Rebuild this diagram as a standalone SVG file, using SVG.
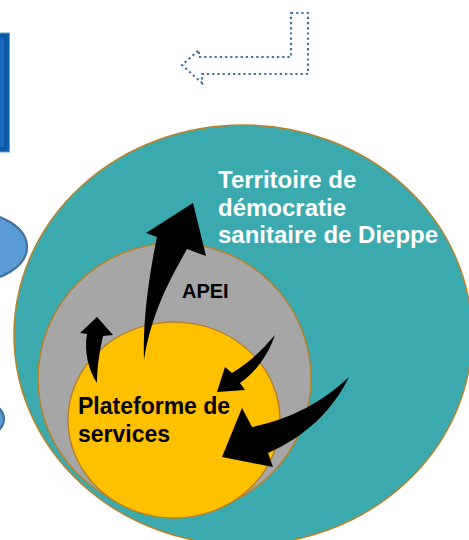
<svg xmlns="http://www.w3.org/2000/svg" width="469" height="540" viewBox="0 0 469 540">
<style>
.ring{stroke:#B7832A;stroke-width:1.5}
.lbl{font-family:"Liberation Sans",Arial,sans-serif;font-weight:bold}
.arr{fill:#000000}
.blue{fill:#5B9BD5;stroke:#41719C;stroke-width:2.2}
</style>
<rect width="469" height="540" fill="#FFFFFF"/>
<g id="side-box">
<rect x="-20" y="33" width="29.5" height="119" fill="#0B5CAD" stroke="#6F9FD3" stroke-width="1"/>
<rect x="-20" y="37" width="25" height="111" fill="#1769C0" stroke="#0A4A8C" stroke-width="1"/>
</g>
<g id="side-ellipse-1"><ellipse class="blue" cx="-30" cy="247" rx="57" ry="35"/></g>
<g id="side-ellipse-2"><ellipse class="blue" cx="-35" cy="419" rx="39" ry="22"/></g>
<g id="return-arrow">
<polygon points="291,13 308,13 308,74 202,74 202,83 182,65 199,50 199,57 291,57" fill="none" stroke="#41719C" stroke-width="2.2" stroke-dasharray="2.2 3"/>
</g>
<g id="territoire">
<ellipse class="ring" cx="243" cy="335" rx="229" ry="210" fill="#3AAAAE"/>
<text class="lbl" fill="#FFFFFF" font-size="24" x="218" y="188">Territoire de</text>
<text class="lbl" fill="#FFFFFF" font-size="24" x="218" y="215.5">démocratie</text>
<text class="lbl" fill="#FFFFFF" font-size="24" x="218" y="243">sanitaire de Dieppe</text>
</g>
<g id="apei">
<ellipse class="ring" cx="174.5" cy="378.5" rx="136.5" ry="135.5" fill="#A6A6A6"/>
<text class="lbl" fill="#000000" font-size="20" x="182" y="298">APEI</text>
</g>
<g id="plateforme">
<ellipse class="ring" cx="174" cy="420" rx="106" ry="98" fill="#FFC000"/>
<text class="lbl" fill="#000000" font-size="23" x="78" y="414">Plateforme de</text>
<text class="lbl" fill="#000000" font-size="23" x="78" y="442">services</text>
</g>
<g id="connectors">
<path class="arr" d="M144,360 C143,330 146,290 157,237 L146,233 L193,203 L206,256 L187,249 C172,276 152,310 144,360 Z"/>
<path class="arr" d="M97,383 C88,370 84,350 87,334 L80,333 L97,317 L113,335 L103,336 C100,350 97,365 97,383 Z"/>
<path class="arr" d="M275,335 C262,350 250,362 232,373 L225,367 L217,392 L245,390 L240,383 C256,372 268,355 275,335 Z"/>
<path class="arr" d="M349,377 C330,395 300,417 252,427 L242,408 L222,457 L273,467 L268,453 C305,437 333,410 349,377 Z"/>
</g>
</svg>
